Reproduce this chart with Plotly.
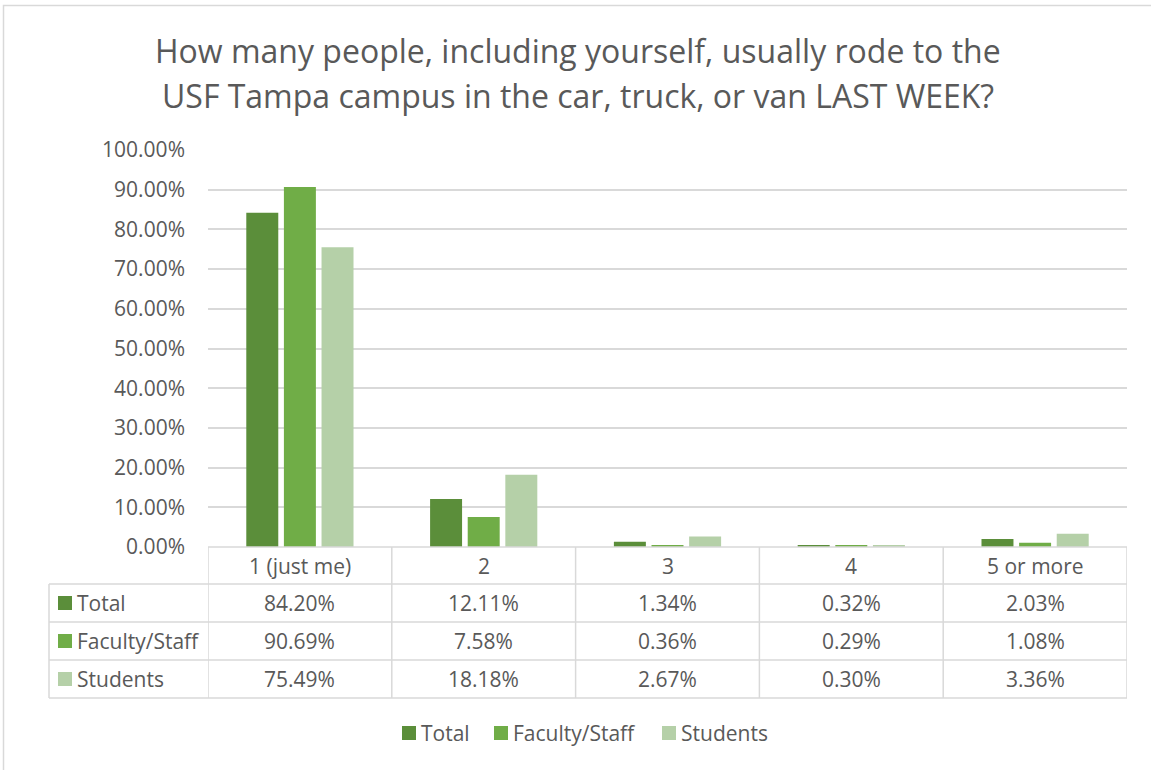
import plotly.graph_objects as go

categories = ["1 (just me)", "2", "3", "4", "5 or more"]
series_names = ["Total", "Faculty/Staff", "Students"]
total = [84.20, 12.11, 1.34, 0.32, 2.03]
faculty_staff = [90.69, 7.58, 0.36, 0.29, 1.08]
students = [75.49, 18.18, 2.67, 0.30, 3.36]
colors = ["#5B8E3A", "#70AD47", "#B5D0A8"]
title_lines = ["How many people, including yourself, usually rode to the",
               "USF Tampa campus in the car, truck, or van LAST WEEK?"]

W, H = 1151, 770
L, R, T, B = 208, 1127, 150, 547
PW, PH = R - L, B - T
FONT = "Open Sans"
TXT = "#595959"
GRID = "#D9D9D9"


def fx(px):
    return (px - L) / PW


def fy(py):
    return (B - py) / PH


series = [total, faculty_staff, students]
fig = go.Figure()
for name, vals, col in zip(series_names, series, colors):
    fig.add_trace(go.Bar(x=list(range(len(categories))), y=[v / 100 for v in vals],
                         name=name, marker=dict(color=col, line=dict(width=0)),
                         showlegend=False))

shapes = []
annotations = []

# outer chart border
shapes.append(dict(type="rect", xref="paper", yref="paper",
                   x0=fx(3.5), x1=fx(1180), y0=fy(5.5), y1=fy(800),
                   line=dict(color=GRID, width=1.5)))

# table geometry (pixels)
row_edges = [547, 584, 622, 660, 698]
left_px = 49
n = len(categories)

shapes.append(dict(type="line", xref="x", yref="paper", x0=-0.5, x1=n - 0.5,
                   y0=fy(row_edges[0]), y1=fy(row_edges[0]), line=dict(color=GRID, width=1.5)))
for ry in row_edges[1:]:
    shapes.append(dict(type="line", xref="paper", yref="paper", x0=fx(left_px), x1=1,
                       y0=fy(ry), y1=fy(ry), line=dict(color=GRID, width=1.5)))
for i in range(n + 1):
    shapes.append(dict(type="line", xref="x", yref="paper", x0=i - 0.5, x1=i - 0.5,
                       y0=fy(row_edges[0]), y1=fy(row_edges[-1]), line=dict(color=GRID, width=1.5)))
shapes.append(dict(type="line", xref="paper", yref="paper", x0=fx(left_px), x1=fx(left_px),
                   y0=fy(row_edges[1]), y1=fy(row_edges[-1]), line=dict(color=GRID, width=1.5)))

TFS = 21


def txt(x, y, text, xref="paper", xanchor="center", size=TFS):
    return dict(x=x, y=y, xref=xref, yref="paper", xanchor=xanchor, yanchor="middle",
                text=text, showarrow=False, font=dict(family=FONT, size=size, color=TXT))


for i, c in enumerate(categories):
    annotations.append(txt(i, fy((row_edges[0] + row_edges[1]) / 2), c, xref="x"))
for r, (name, vals, col) in enumerate(zip(series_names, series, colors)):
    cy = (row_edges[r + 1] + row_edges[r + 2]) / 2
    shapes.append(dict(type="rect", xref="paper", yref="paper", x0=fx(58), x1=fx(72),
                       y0=fy(cy - 7), y1=fy(cy + 7), fillcolor=col, line=dict(width=0)))
    annotations.append(txt(fx(75), fy(cy), name, xanchor="left"))
    for i, v in enumerate(vals):
        annotations.append(txt(i, fy(cy), f"{v:.2f}%", xref="x"))

leg_y = 733
leg_sq = [402, 494, 662]
for name, col, sx in zip(series_names, colors, leg_sq):
    shapes.append(dict(type="rect", xref="paper", yref="paper", x0=fx(sx), x1=fx(sx + 14),
                       y0=fy(leg_y - 7), y1=fy(leg_y + 7), fillcolor=col, line=dict(width=0)))
    annotations.append(txt(fx(sx + 17), fy(leg_y), name, xanchor="left"))

for k, line in enumerate(title_lines):
    annotations.append(txt(fx(578), fy(50 + 45 * k), line, size=32))

fig.update_layout(
    width=W, height=H, autosize=False,
    margin=dict(l=L, r=W - R, t=T, b=H - B, pad=0),
    paper_bgcolor="white", plot_bgcolor="white",
    barmode="group", bargap=0.386, bargroupgap=0.15,
    shapes=shapes, annotations=annotations,
    xaxis=dict(range=[-0.5, n - 0.5], showticklabels=False, showgrid=False,
               zeroline=False, showline=False, ticks=""),
    yaxis=dict(range=[0, 1], dtick=0.1, tick0=0, tickformat=".2%", showgrid=True,
               gridcolor=GRID, gridwidth=1.5, zeroline=False, showline=False, ticks="",
               ticklabelstandoff=22,
               tickfont=dict(family=FONT, size=TFS, color=TXT)),
)

fig.write_html("out.html")
